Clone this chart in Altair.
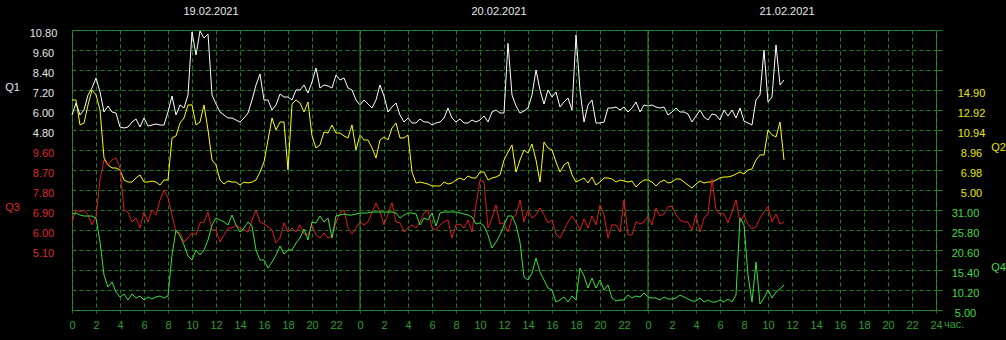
import altair as alt
import pandas as pd

# ---- sampling grid: one reading every 20 minutes, hours from 19.02.2021 00:00
HOURS = [round(i / 3, 4) for i in range(179)]

Q1 = [5.70, 6.42, 5.70, 6.00, 6.90, 7.32, 7.92, 7.08, 5.88, 6.24,
      5.88, 5.82, 4.98, 4.92, 4.98, 5.28, 5.46, 4.98, 5.52, 5.04,
      5.10, 5.16, 5.10, 5.10, 5.88, 6.84, 5.70, 6.30, 6.12, 6.90,
      10.68, 9.30, 10.74, 10.32, 10.56, 6.90, 6.36, 5.88, 5.70, 5.52,
      5.52, 5.40, 5.28, 5.52, 5.82, 6.60, 7.50, 8.16, 6.60, 6.60,
      6.00, 6.30, 6.96, 6.78, 6.78, 6.60, 7.20, 7.20, 7.50, 7.02,
      7.68, 8.52, 7.32, 7.50, 7.44, 7.32, 8.10, 7.80, 7.92, 7.32,
      7.20, 6.60, 6.30, 6.60, 6.36, 6.12, 6.60, 7.50, 6.84, 5.88,
      6.18, 6.42, 5.70, 5.28, 5.52, 5.22, 5.22, 5.46, 5.28, 5.28,
      5.10, 5.22, 5.28, 5.52, 6.12, 5.52, 5.28, 5.46, 5.22, 5.22,
      5.40, 5.28, 5.40, 5.64, 5.28, 5.88, 6.00, 5.82, 5.82, 10.00,
      6.90, 6.24, 5.82, 5.94, 6.12, 6.90, 8.40, 7.20, 6.36, 7.20,
      6.78, 7.08, 6.18, 6.48, 6.72, 6.00, 10.50, 7.20, 5.28, 6.30,
      6.60, 5.22, 5.22, 5.28, 6.12, 6.12, 6.18, 6.00, 6.18, 5.88,
      6.12, 6.48, 5.88, 6.30, 6.24, 6.30, 6.18, 6.12, 6.18, 5.70,
      5.88, 6.12, 5.88, 5.88, 5.76, 5.28, 5.64, 6.00, 5.58, 5.40,
      5.76, 5.70, 5.40, 6.00, 5.64, 6.00, 5.52, 6.12, 5.34, 5.22,
      5.10, 6.60, 6.90, 9.60, 6.48, 6.78, 9.90, 7.50, 7.80]

Q2 = [13.91, 13.91, 11.44, 11.63, 13.42, 14.90, 14.41, 12.92, 8.17, 7.48,
      7.18, 7.18, 6.98, 5.99, 5.79, 5.79, 6.19, 6.49, 5.79, 5.79,
      5.89, 5.79, 5.49, 5.99, 5.99, 10.15, 10.35, 11.63, 12.13, 13.42,
      13.42, 11.44, 11.73, 13.42, 10.94, 7.97, 7.48, 5.99, 5.59, 5.89,
      5.79, 5.79, 5.49, 5.79, 5.69, 5.79, 5.99, 6.78, 7.77, 9.95,
      12.13, 10.94, 11.73, 11.73, 6.98, 13.51, 13.91, 13.61, 12.72, 13.71,
      10.35, 9.16, 9.46, 10.74, 10.64, 11.44, 10.64, 10.64, 10.35, 10.15,
      11.44, 8.96, 10.45, 9.95, 9.95, 9.16, 8.17, 9.95, 10.25, 9.95,
      11.14, 11.63, 10.15, 10.15, 10.45, 6.78, 5.69, 5.79, 5.69, 5.59,
      5.40, 5.40, 5.40, 5.79, 5.59, 5.69, 5.99, 6.19, 5.99, 6.39,
      6.19, 6.19, 6.78, 6.78, 5.99, 6.19, 6.29, 6.49, 7.97, 8.76,
      9.46, 6.78, 7.97, 8.96, 8.66, 9.55, 7.97, 5.79, 9.75, 9.16,
      8.96, 7.77, 6.78, 7.48, 7.77, 6.49, 5.79, 5.99, 6.19, 5.69,
      6.29, 5.49, 5.79, 6.19, 6.19, 6.09, 5.79, 5.99, 5.89, 5.79,
      5.89, 5.30, 5.69, 5.99, 5.99, 5.79, 5.40, 5.79, 5.99, 5.69,
      5.79, 6.09, 6.09, 5.79, 5.49, 5.20, 5.59, 5.89, 5.69, 5.79,
      5.79, 5.99, 6.19, 6.29, 6.29, 6.39, 6.58, 6.78, 6.58, 6.98,
      7.08, 7.97, 8.47, 8.47, 10.94, 10.45, 10.25, 11.73, 7.97]

Q3 = [6.36, 6.90, 6.81, 6.90, 6.68, 6.23, 6.59, 8.25, 9.15, 8.93,
      9.15, 9.24, 8.79, 6.90, 6.81, 6.36, 6.54, 6.09, 6.81, 6.36,
      6.90, 6.68, 7.35, 7.80, 7.44, 6.68, 5.91, 5.87, 5.46, 5.64,
      5.87, 5.78, 6.32, 6.36, 6.81, 6.00, 6.00, 5.46, 5.78, 6.09,
      6.09, 6.23, 6.09, 6.00, 5.91, 6.45, 6.90, 6.36, 6.27, 6.14,
      6.00, 5.42, 5.64, 6.32, 5.91, 6.09, 5.91, 6.23, 5.82, 5.78,
      6.23, 5.78, 5.64, 5.87, 5.64, 5.73, 6.36, 6.77, 6.90, 6.09,
      5.82, 6.09, 6.36, 6.23, 6.36, 6.77, 7.22, 6.81, 6.23, 6.72,
      7.22, 6.36, 6.32, 5.91, 6.09, 6.23, 6.09, 6.36, 6.77, 6.90,
      6.09, 6.00, 6.23, 6.36, 6.45, 5.64, 6.23, 6.27, 6.09, 6.45,
      5.91, 7.13, 8.25, 8.16, 6.09, 6.54, 7.13, 6.27, 6.32, 5.91,
      6.54, 6.68, 7.35, 6.36, 6.90, 6.54, 6.68, 6.99, 6.68, 6.32,
      6.45, 5.82, 5.64, 6.00, 6.36, 6.63, 6.36, 6.00, 6.50, 6.09,
      6.63, 6.23, 7.13, 6.68, 5.64, 6.23, 6.23, 5.91, 7.35, 5.78,
      5.78, 6.36, 6.27, 6.36, 6.63, 6.23, 6.99, 6.63, 6.72, 7.04,
      7.08, 6.68, 6.45, 6.36, 6.36, 6.00, 6.68, 5.91, 6.54, 6.72,
      8.30, 6.90, 6.72, 6.72, 6.32, 6.81, 7.35, 6.36, 6.68, 6.27,
      6.05, 6.14, 6.54, 6.81, 7.04, 6.36, 6.72, 6.27, 6.36]

Q4 = [29.96, 30.22, 29.70, 29.44, 29.44, 29.44, 28.92, 22.68, 14.10, 10.98,
      12.28, 9.68, 8.38, 9.16, 7.60, 9.16, 8.12, 8.64, 7.60, 8.38,
      7.86, 8.38, 8.64, 8.12, 8.64, 19.30, 25.80, 24.24, 21.90, 19.04,
      18.00, 20.60, 19.30, 20.60, 23.20, 27.10, 28.92, 28.40, 27.88, 27.10,
      29.70, 27.10, 25.28, 26.32, 27.88, 26.84, 20.60, 18.00, 18.00, 15.92,
      17.48, 19.30, 21.64, 19.56, 20.60, 20.60, 22.42, 23.72, 26.06, 23.20,
      27.88, 27.62, 29.44, 27.88, 28.92, 23.72, 29.44, 29.70, 29.96, 29.70,
      29.70, 29.96, 30.22, 30.22, 30.22, 30.48, 30.48, 30.48, 30.48, 30.48,
      30.48, 30.22, 28.92, 29.70, 30.22, 30.22, 29.96, 27.10, 28.92, 28.40,
      30.22, 26.84, 30.22, 30.48, 30.48, 30.48, 30.48, 30.22, 29.96, 29.70,
      29.18, 27.36, 27.62, 26.84, 24.50, 21.12, 22.68, 24.50, 27.10, 29.44,
      29.44, 27.10, 22.68, 13.58, 12.80, 14.62, 18.52, 14.88, 12.80, 10.72,
      10.20, 7.08, 7.60, 8.38, 7.08, 8.64, 7.60, 15.92, 13.84, 10.72,
      13.32, 10.72, 12.80, 10.20, 11.50, 8.12, 7.34, 7.60, 7.60, 8.90,
      8.12, 8.64, 8.38, 9.42, 8.38, 8.12, 8.12, 7.60, 8.38, 7.86,
      7.86, 8.12, 8.90, 8.38, 7.86, 7.34, 7.34, 8.12, 7.08, 7.60,
      7.08, 7.08, 7.60, 7.08, 7.86, 7.08, 8.90, 28.90, 27.10, 14.10,
      7.08, 17.48, 6.56, 8.12, 10.20, 8.12, 9.68, 10.46, 11.50]

DAY_LABELS = ["19.02.2021", "20.02.2021", "21.02.2021"]
DAY_CENTERS = [12, 36, 60]
DAY_BOUNDS = [24, 48]
X_TICKS = list(range(0, 73, 2))

Q1_TICKS = [round(-6.0 + 1.2 * k, 2) for k in range(15)]
Q2_TICKS = [round(-6.88 + 1.98 * k, 2) for k in range(15)]
Q3_TICKS = [5.10, 6.00, 6.90, 7.80, 8.70, 9.60]
Q4_TICKS = [5.00, 10.20, 15.40, 20.60, 25.80, 31.00]

FONT = "Liberation Sans"
GRID = "#1f7d1f"
BORDER = "#2e922e"
C_Q1, C_Q2, C_Q3, C_Q4 = "#ffffff", "#ffff00", "#e01c1c", "#3ce03c"
L_Q1, L_Q2, L_Q3, L_Q4 = "#e6e6e6", "#e8e800", "#dc2a2a", "#40dc40"

xscale = alt.Scale(domain=[0, 72], nice=False, zero=False)


def frame(vals):
    return pd.DataFrame({"h": HOURS, "v": vals})


x_axis = alt.Axis(values=X_TICKS, grid=True, gridColor=GRID, gridDash=[4, 3],
                  gridWidth=1, domain=False, ticks=True, tickSize=3,
                  tickColor=GRID, labelColor="#2f9f2f", labelFont=FONT,
                  labelFontSize=11, labelPadding=6, labelFlush=False,
                  labelOverlap=False, labelBound=False, title=None,
                  labelExpr="datum.value == 72 ? '24' : '' + (datum.value % 24)")


def yaxis(orient, values, color, title, tx, ty, expr, grid=False, ticks=False):
    return alt.Axis(orient=orient, values=values, grid=grid, gridColor=GRID,
                    gridDash=[4, 3], gridWidth=1, domain=False, ticks=ticks,
                    tickSize=6, tickColor=GRID, labelColor=color,
                    labelFont=FONT, labelFontSize=11, labelAlign="center",
                    labelBaseline="middle", labelPadding=29, labelOffset=3,
                    labelFlush=False, labelOverlap=False, labelBound=False,
                    labelExpr=expr, title=title, titleAngle=0, titleX=tx,
                    titleY=ty, titleAlign="center", titleBaseline="middle",
                    titleColor=color, titleFont=FONT, titleFontSize=11,
                    titleFontWeight="normal")


def line(vals, color, domain, axis, first=False):
    return alt.Chart(frame(vals)).mark_line(color=color, strokeWidth=1).encode(
        x=alt.X("h:Q", scale=xscale, axis=x_axis if first else None),
        y=alt.Y("v:Q", scale=alt.Scale(domain=domain, nice=False, zero=False),
                axis=axis),
    )


l1 = line(Q1, C_Q1, [-6.0, 10.8],
          yaxis("left", Q1_TICKS, L_Q1, "Q1", -60, 57,
                "datum.value >= 4.79 ? format(datum.value, '.2f') : ''",
                grid=True), first=True)
l2 = line(Q2, C_Q2, [-6.88, 20.84],
          yaxis("right", Q2_TICKS, L_Q2, "Q2", 62, 117,
                "datum.value >= 4.99 && datum.value <= 14.91 ? format(datum.value, '.2f') : ''",
                ticks=True))
l3 = line(Q3, C_Q3, [2.4, 15.0],
          yaxis("left", Q3_TICKS, L_Q3, "Q3", -60, 177,
                "format(datum.value, '.2f')"))
l4 = line(Q4, C_Q4, [5.0, 77.8],
          yaxis("right", Q4_TICKS, L_Q4, "Q4", 62, 237,
                "format(datum.value, '.2f')"))

bounds = alt.Chart(pd.DataFrame({"h": DAY_BOUNDS})).mark_rule(
    color=BORDER, strokeWidth=1).encode(x=alt.X("h:Q", scale=xscale, axis=None))

days = alt.Chart(pd.DataFrame({"h": DAY_CENTERS, "t": DAY_LABELS})).mark_text(
    color="#e8e8e8", font=FONT, fontSize=11, dx=-5, align="center",
    baseline="middle").encode(
    x=alt.X("h:Q", scale=xscale, axis=None), y=alt.value(-18), text="t:N")

unit = alt.Chart(pd.DataFrame({"h": [72], "t": ["час."]})).mark_text(
    color="#2f9f2f", font=FONT, fontSize=11, dx=8, align="left",
    baseline="top").encode(
    x=alt.X("h:Q", scale=xscale, axis=None), y=alt.value(289), text="t:N")

chart = alt.layer(l1, l2, l3, l4, bounds, days, unit).resolve_scale(
    y="independent"
).resolve_axis(
    x="independent"
).properties(
    width=864, height=280, background="black",
    padding={"left": 72, "top": 30, "right": 70, "bottom": 30},
    autosize=alt.AutoSizeParams(type="none"),
).configure_view(stroke=BORDER, strokeWidth=1)

chart.save("out.html", embed_options={"renderer": "svg", "actions": False})
